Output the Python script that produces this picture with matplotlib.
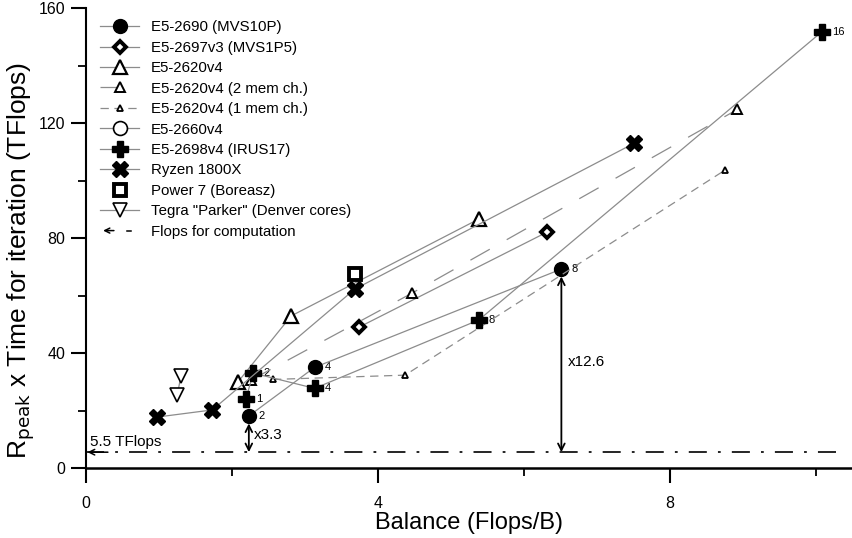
import matplotlib
matplotlib.use("Agg")
import matplotlib.pyplot as plt
from matplotlib.lines import Line2D
from matplotlib.patches import FancyArrowPatch
from matplotlib.legend_handler import HandlerBase
from matplotlib.ticker import MultipleLocator

plt.rcParams['font.family'] = ['Liberation Sans', 'DejaVu Sans']
plt.rcParams['lines.scale_dashes'] = False

# data (balance, Rpeak x time)
e5_2690_x = [2.23, 3.13, 6.51]
e5_2690_y = [18.1, 35.0, 69.2]
e5_2690_nodes = [2, 4, 8]

e5_2697v3_x = [3.74, 6.31]
e5_2697v3_y = [49.0, 82.0]

e5_2620v4_x = [2.08, 2.81, 5.38]
e5_2620v4_y = [29.9, 52.9, 86.6]

e5_2620v4_2ch_x = [2.26, 4.47, 8.92]
e5_2620v4_2ch_y = [30.6, 60.9, 124.7]

e5_2620v4_1ch_x = [2.56, 4.37, 8.75]
e5_2620v4_1ch_y = [30.8, 32.3, 103.6]

e5_2660v4_x = []
e5_2660v4_y = []

e5_2698v4_x = [2.19, 2.29, 3.13, 5.38, 10.08]
e5_2698v4_y = [24.0, 33.0, 27.7, 51.5, 151.8]
e5_2698v4_nodes = [1, 2, 4, 8, 16]

ryzen_x = [0.97, 1.73, 3.68, 7.51]
ryzen_y = [17.7, 20.2, 62.2, 113.0]

power7_x = [3.69]
power7_y = [67.4]

tegra_x = [1.30, 1.25]
tegra_y = [32.0, 25.4]

flops_comp = 5.5
ratio_labels = ['x3.3', 'x12.6']


class ArrowHandler(HandlerBase):
    def create_artists(self, legend, orig, xd, yd, w, h, fontsize, trans):
        y = h / 2 - yd
        a = FancyArrowPatch((-xd + w * 0.42, y), (-xd, y), arrowstyle='->',
                            mutation_scale=9, lw=1.1, color='k', transform=trans)
        l = Line2D([-xd + w * 0.68, -xd + w * 0.78], [y, y], color='k', lw=1.1,
                   transform=trans)
        return [a, l]


fig = plt.figure(figsize=(8.52, 5.38), dpi=100)
ax = fig.add_axes([86 / 852, 70 / 538, 766 / 852, 460 / 538])

lc = '0.55'
lw = 0.9
ax.plot(e5_2690_x, e5_2690_y, color=lc, lw=lw, marker='o', ms=10, mfc='k', mec='k',
        label='E5-2690 (MVS10P)', zorder=3)
ax.plot(e5_2697v3_x, e5_2697v3_y, color=lc, lw=lw, marker='D', ms=6, mfc='white', mec='k',
        mew=2.8, label='E5-2697v3 (MVS1P5)', zorder=3)
ax.plot(e5_2620v4_x, e5_2620v4_y, color=lc, lw=lw, marker='^', ms=10, mfc='white', mec='k',
        mew=1.6, label='E5-2620v4', zorder=3)
ax.plot(e5_2620v4_2ch_x, e5_2620v4_2ch_y, color=lc, lw=lw, dashes=(16, 14), marker='^', ms=7,
        mfc='white', mec='k', mew=1.4, label='E5-2620v4 (2 mem ch.)', zorder=3)
ax.plot(e5_2620v4_1ch_x, e5_2620v4_1ch_y, color=lc, lw=lw, dashes=(6, 4), marker='^', ms=5,
        mfc='white', mec='k', mew=1.3, label='E5-2620v4 (1 mem ch.)', zorder=3)
ax.plot(e5_2660v4_x, e5_2660v4_y, color=lc, lw=lw, marker='o', ms=10, mfc='white', mec='k',
        mew=1.2, label='E5-2660v4')
ax.plot(e5_2698v4_x, e5_2698v4_y, color=lc, lw=lw, marker='P', ms=11, mfc='k', mec='k',
        label='E5-2698v4 (IRUS17)', zorder=3)
ax.plot(ryzen_x, ryzen_y, color=lc, lw=lw, marker='X', ms=11, mfc='k', mec='k',
        label='Ryzen 1800X', zorder=3)
ax.plot(power7_x, power7_y, ls='none', marker='s', ms=9, mfc='white', mec='k', mew=2.8,
        label='Power 7 (Boreasz)', zorder=3)
ax.plot(tegra_x, tegra_y, color=lc, lw=lw, marker='v', ms=10, mfc='white', mec='k', mew=1.2,
        label='Tegra "Parker" (Denver cores)', zorder=3)

# node-count labels
for xs, ys, ns in [(e5_2690_x, e5_2690_y, e5_2690_nodes), (e5_2698v4_x, e5_2698v4_y, e5_2698v4_nodes)]:
    for x, y, n in zip(xs, ys, ns):
        ax.annotate(str(n), xy=(x, y), xytext=(7, 0), textcoords='offset points',
                    va='center', ha='left', fontsize=8, zorder=1,
                    arrowprops=dict(arrowstyle='-', color=lc, lw=0.8, shrinkA=0, shrinkB=0))

# flops for computation line
ax.plot([0, 10.4], [flops_comp, flops_comp], color='k', lw=1.2, dashes=(13, 8, 2, 8), zorder=2)
ax.annotate('', xy=(0.02, flops_comp), xytext=(0.3, flops_comp),
            arrowprops=dict(arrowstyle='->', color='k', lw=1.1, shrinkA=0, shrinkB=0))
ax.text(0.05, flops_comp + 1.2, '5.5 TFlops', fontsize=11, ha='left', va='bottom')

# ratio arrows
for x, y, lab, tx, ty in [(e5_2690_x[0], e5_2690_y[0], ratio_labels[0], 2.3, 11.5),
                          (e5_2690_x[2], e5_2690_y[2], ratio_labels[1], 6.6, 37)]:
    ax.annotate('', xy=(x, y - 2.6), xytext=(x, flops_comp),
                arrowprops=dict(arrowstyle='<->', color='k', lw=1.3, shrinkA=0, shrinkB=0,
                                mutation_scale=12))
    ax.text(tx, ty, lab, fontsize=11, ha='left', va='center')

handles, labels = ax.get_legend_handles_labels()
flops_handle = Line2D([], [], color='k')
handles.append(flops_handle)
labels.append('Flops for computation')
ax.legend(handles, labels, loc='upper left', bbox_to_anchor=(0.005, 0.996), frameon=False,
          fontsize=10.8, handlelength=2.6, handletextpad=0.75, labelspacing=0.43,
          borderaxespad=0.3, numpoints=1,
          handler_map={flops_handle: ArrowHandler()})

ax.set_xlim(0, 10.49)
ax.set_ylim(0, 160)
ax.xaxis.set_major_locator(MultipleLocator(4))
ax.xaxis.set_minor_locator(MultipleLocator(2))
ax.yaxis.set_major_locator(MultipleLocator(40))
ax.yaxis.set_minor_locator(MultipleLocator(20))
ax.spines['top'].set_visible(False)
ax.spines['right'].set_visible(False)
ax.spines['left'].set_linewidth(1.5)
ax.spines['bottom'].set_linewidth(1.8)
ax.tick_params(which='major', direction='out', length=11, width=1.5, labelsize=11.5)
ax.tick_params(which='minor', direction='out', length=6, width=1.3)
ax.tick_params(axis='x', which='major', pad=9)
ax.tick_params(axis='y', which='major', pad=4)

ax.set_xlabel('Balance (Flops/B)', fontsize=17, labelpad=1)
ax.set_ylabel(r'R$_{\mathrm{peak}}$ x Time for iteration (TFlops)', fontsize=19)
ax.yaxis.set_label_coords(-0.064, 0.45)

fig.savefig('out.png', dpi=100)
